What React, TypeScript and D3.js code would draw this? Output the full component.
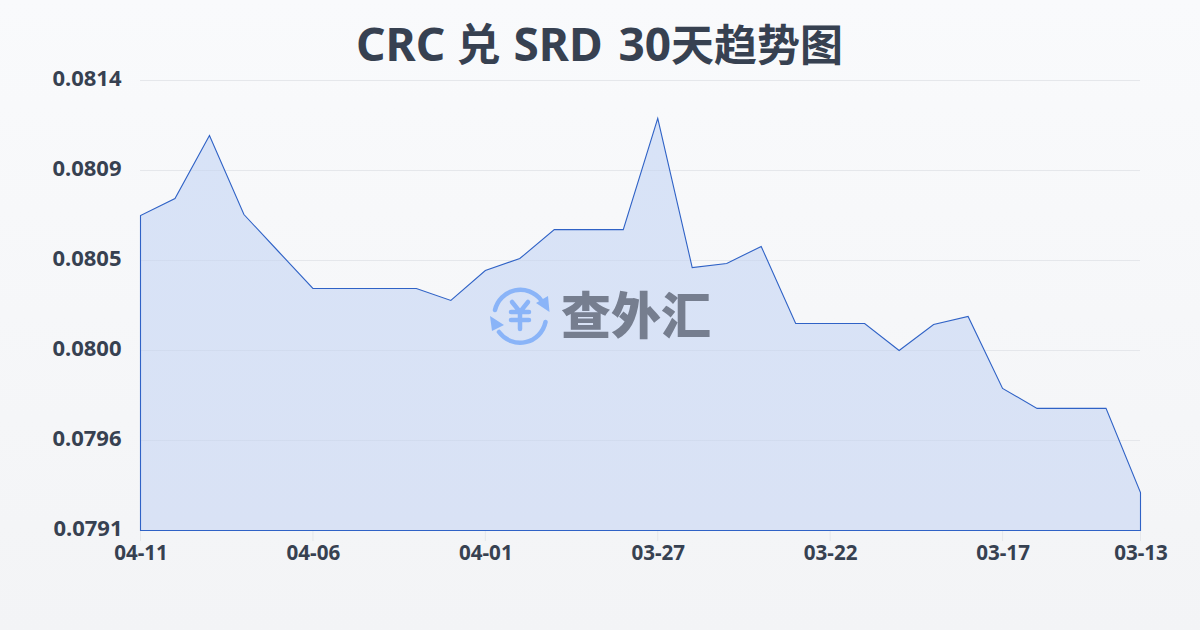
import React from "react";
import * as d3 from "d3";

const dateLabels = ["04-11","04-06","04-01","03-27","03-22","03-17","03-13"];
const dateIndex = [0,5,10,15,20,25,29];
const yTickLabels = ["0.0814","0.0809","0.0805","0.0800","0.0796","0.0791"];
const rates = [0.08071,0.080797,0.081119,0.080715,0.080526,0.080337,0.080337,0.080337,0.080337,0.080276,0.080429,0.08049,0.080638,0.080638,0.080638,0.081206,0.080444,0.080465,0.080552,0.080158,0.080158,0.080158,0.08002,0.080153,0.080194,0.079826,0.079724,0.079724,0.079724,0.079294];
const yMin = 0.0791, yMax = 0.0814;

const font = "'Noto Sans','Noto Sans CJK SC',sans-serif";
const ink = "#374151";

export default function App() {
  const x = d3.scaleLinear().domain([0, rates.length - 1]).range([140.5, 1140.5]);
  const y = d3.scaleLinear().domain([yMin, yMax]).range([530.5, 80.5]);
  const line = d3.line<number>().x((_, i) => x(i)).y(d => y(d));
  const area = d3.area<number>().x((_, i) => x(i)).y0(y(yMin)).y1(d => y(d));
  const closed = `M${x(0)},${y(yMin)}L${x(0)},${y(rates[0])}` + line(rates)!.replace(/^M[^L]*/, "") + `L${x(29)},${y(yMin)}Z`;
  const tickY = d3.scaleLinear().domain([0, yTickLabels.length - 1]).range([80.5, 530.5]);
  return (
    <svg width={1200} height={630} viewBox="0 0 1200 630" style={{ position: "fixed", left: 0, top: 0, display: "block" }}>
      <defs>
        <linearGradient id="bg" x1="0" y1="0" x2="0" y2="1">
          <stop offset="0" stopColor="#f9fafc" />
          <stop offset="1" stopColor="#f3f4f6" />
        </linearGradient>
        <linearGradient id="fill" x1="0" y1="0" x2="0" y2="1">
          <stop offset="0" stopColor="#d8e3f7" />
          <stop offset="1" stopColor="#d9e2f5" />
        </linearGradient>
        <clipPath id="areaClip"><path d={area(rates)!} /></clipPath>
      </defs>
      <rect width={1200} height={630} fill="url(#bg)" />
      <text y={61} fontFamily={font} fontWeight={700} fontSize={46} fill={ink}>
        <tspan x={356}>CRC</tspan>
        <tspan x={456.5} fontSize={44}>兑</tspan>
        <tspan x={513.5}>SRD</tspan>
        <tspan x={618.5}>30</tspan>
        <tspan x={671} fontSize={43}>天趋势图</tspan>
      </text>
      {yTickLabels.map((t, i) => (
        <g key={t}>
          <line x1={140} x2={1140} y1={tickY(i)} y2={tickY(i)} stroke="#e5e7eb" strokeWidth={1} />
          <text x={i === yTickLabels.length - 1 ? 122.5 : 121.5} y={tickY(i) + 5.5} textAnchor="end" fontFamily={font} fontWeight={700} fontSize={22} fill={ink}>{t}</text>
        </g>
      ))}
      <path d={area(rates)!} fill="url(#fill)" />
      <g clipPath="url(#areaClip)">
        {yTickLabels.map(t => (
          <line key={t} x1={140} x2={1140} y1={tickY(yTickLabels.indexOf(t))} y2={tickY(yTickLabels.indexOf(t))} stroke="#c9d3e6" strokeOpacity={0.45} strokeWidth={1} />
        ))}
      </g>
      <path d={closed} fill="none" stroke="#2f62c6" strokeWidth={1.1} />
      {dateIndex.map((d, i) => (
        <g key={d}>
          <line x1={x(d)} x2={x(d)} y1={531} y2={541} stroke="#e5e7eb" />
          <text x={x(d) + 0.5} y={560} textAnchor="middle" fontFamily={font} fontWeight={700} fontSize={20.6} fill={ink}>{dateLabels[i]}</text>
        </g>
      ))}
      <g fill="none" stroke="#8ab4f8" strokeWidth={4.5} strokeLinecap="round">
        <path d="M495,310 A26,26 0 0 1 541,300" />
        <path d="M545.5,322 A26,26 0 0 1 499,332" />
        <path d="M512,302 L520,312 L528,302 M511,312 H529 M511,320 H529 M520,312 V329" />
      </g>
      <path d="M536,303 L548,296 L549.5,312 Z M490,316 L504,325 L492,331 Z" fill="#8ab4f8" />
      <text x={636} y={334} textAnchor="middle" fontFamily="'Noto Sans CJK SC',sans-serif" fontWeight={900} fontSize={50} fill="#767e8f">查外汇</text>
    </svg>
  );
}
